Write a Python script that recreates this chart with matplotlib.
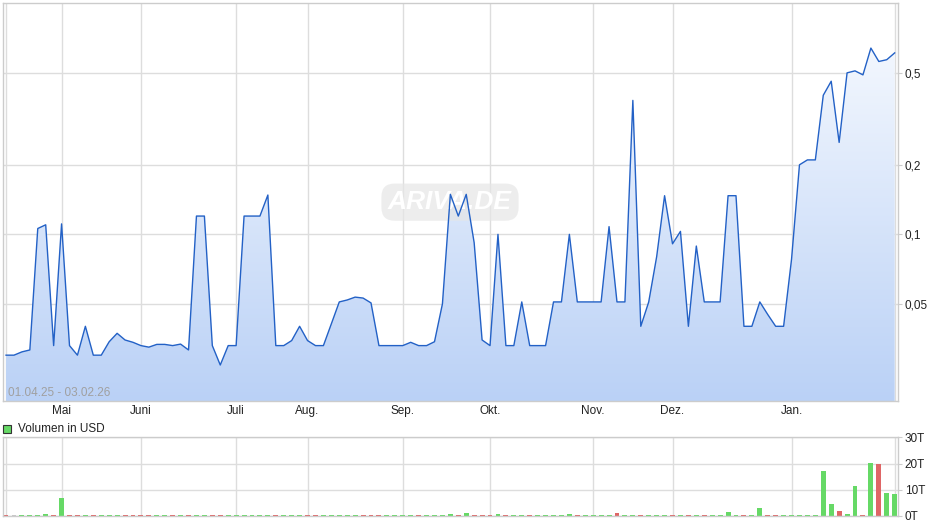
import numpy as np
import matplotlib.pyplot as plt
from matplotlib.patches import Rectangle

plt.rcParams['font.family'] = ['Liberation Sans', 'DejaVu Sans']

# Kurs (USD), ein Wert je Handelspunkt 01.04.25 - 03.02.26
price = [0.030, 0.030, 0.031, 0.0316, 0.106, 0.110, 0.033, 0.111, 0.033, 0.030,
         0.040, 0.030, 0.030, 0.0343, 0.0373, 0.0349, 0.0341, 0.033, 0.0325, 0.0334,
         0.0334, 0.033, 0.0335, 0.0316, 0.120, 0.120, 0.033, 0.0272, 0.033, 0.033,
         0.120, 0.120, 0.120, 0.148, 0.033, 0.033, 0.0347, 0.040, 0.0347, 0.033,
         0.033, 0.041, 0.051, 0.052, 0.0535, 0.053, 0.0505, 0.033, 0.033, 0.033,
         0.033, 0.0341, 0.033, 0.033, 0.0343, 0.050, 0.149, 0.120, 0.149, 0.092,
         0.0349, 0.033, 0.100, 0.033, 0.033, 0.051, 0.033, 0.033, 0.033, 0.051,
         0.051, 0.100, 0.051, 0.051, 0.051, 0.051, 0.108, 0.051, 0.051, 0.38,
         0.040, 0.051, 0.080, 0.147, 0.091, 0.103, 0.040, 0.089, 0.051, 0.051,
         0.051, 0.147, 0.147, 0.040, 0.040, 0.051, 0.045, 0.040, 0.040, 0.078,
         0.20, 0.21, 0.21, 0.40, 0.46, 0.25, 0.50, 0.51, 0.49, 0.64,
         0.56, 0.57, 0.61]

# Volumen in Tausend USD
volume = [0, 0.4, 0, 0, 0, 0.8, 0, 6.9, 0, 0,
          0, 0, 0, 0, 0, 0, 0, 0, 0, 0,
          0, 0, 0, 0, 0, 0, 0, 0, 0, 0,
          0, 0, 0, 0, 0, 0, 0, 0, 0, 0,
          0, 0, 0, 0, 0, 0, 0, 0, 0, 0,
          0, 0, 0, 0, 0, 0, 0.8, 0, 1.3, 0,
          0, 0, 0.8, 0, 0, 0, 0, 0, 0, 0,
          0, 0.8, 0, 0, 0, 0, 0, 1.1, 0, 0,
          0, 0, 0, 0, 0, 0, 0, 0, 0, 0,
          0, 1.5, 0, 0, 0, 3.0, 0, 0, 0, 0,
          0, 0, 0, 17.2, 4.6, 1.9, 0.8, 11.5, 0, 20.1,
          20.0, 8.8, 8.4]

month_pos = [7, 17, 29, 38, 50, 61, 74, 84, 99]
month_lbl = ['Mai', 'Juni', 'Juli', 'Aug.', 'Sep.', 'Okt.', 'Nov.', 'Dez.', 'Jan.']
price_ticks = [0.05, 0.1, 0.2, 0.5]
price_lbl = ['0,05', '0,1', '0,2', '0,5']
vol_ticks = [0, 10, 20, 30]
vol_lbl = ['0T', '10T', '20T', '30T']

W, H = 940, 526
fig = plt.figure(figsize=(9.4, 5.26), dpi=100)
ax = fig.add_axes([2.7 / W, 1 - 401 / H, 895 / W, 397.7 / H])
axv = fig.add_axes([2.7 / W, 10 / H, 895 / W, 78.7 / H])

x = np.arange(len(price))
xlim = (-0.42, len(price) - 1 + 0.38)
grid_c = '#dddddd'

for a in (ax, axv):
    a.set_xlim(*xlim)
    for p in month_pos + [0, len(price) - 1]:
        a.axvline(p, color=grid_c, lw=1, zorder=0)
    for s in a.spines.values():
        s.set_color('#cccccc')
        s.set_linewidth(1)
    a.yaxis.tick_right()
    a.tick_params(axis='y', length=3, color='#cccccc', pad=2, labelsize=8.5,
                  labelcolor='#222222')
    a.set_facecolor('white')

# Kurs
ax.set_yscale('log')
ylo, yhi = 0.019, 1.0
ax.set_ylim(ylo, yhi)
ax.set_yticks(price_ticks)
ax.set_yticklabels(price_lbl)
ax.minorticks_off()
for t in price_ticks:
    ax.axhline(t, color=grid_c, lw=1, zorder=0)

poly = ax.fill_between(x, price, ylo, facecolor='none', edgecolor='none')
grad = np.linspace(0, 1, 256)
top_c = np.array([0.98, 0.988, 1.0])
bot_c = np.array([0.73, 0.82, 0.965])
img = top_c * (1 - grad[:, None]) + bot_c * grad[:, None]
img = img.reshape(256, 1, 3)
im = ax.imshow(img, extent=[0, 1, 0, 1], transform=ax.transAxes,
               aspect='auto', zorder=1, interpolation='bilinear')
im.set_clip_path(poly.get_paths()[0], transform=ax.transData)
ax.set_xlim(*xlim)
ax.set_ylim(ylo, yhi)

ax.text(0.4998, 0.5, 'ARIVA.DE', transform=ax.transAxes, ha='center', va='center',
        fontsize=19, fontstyle='italic', fontweight='bold', color='white', zorder=2,
        bbox=dict(boxstyle='round,pad=0.25,rounding_size=0.5', fc='#e6e6e6',
                  ec='none', alpha=0.7))

ax.plot(x, price, color='#2361c6', lw=1.0, zorder=3)

ax.set_xticks(month_pos)
ax.set_xticklabels(month_lbl)
ax.tick_params(axis='x', length=0, pad=3, labelsize=8.5, labelcolor='#222222')

ax.text(0.006, 0.004, '01.04.25 - 03.02.26', transform=ax.transAxes,
        fontsize=8.5, color='#a0a0a0', ha='left', va='bottom', zorder=4)

# Volumen: Farbe nach Kursrichtung
colors = ['#df6666']
for i in range(1, len(price)):
    if price[i] > price[i - 1] * 1.005:
        colors.append('#66d966')
    elif price[i] < price[i - 1] * 0.995:
        colors.append('#df6666')
    else:
        colors.append('#66d966' if volume[i] == 0 else '#c8c8c8')
heights = [max(v, 0.35) for v in volume]
axv.bar(x, heights, width=0.62, color=colors, zorder=2)
axv.set_ylim(0, 30)
axv.set_yticks(vol_ticks)
axv.set_yticklabels(vol_lbl)
for t in vol_ticks:
    axv.axhline(t, color=grid_c, lw=1, zorder=0)
axv.set_xticks([])

fig.patches.append(Rectangle((3.3 / W, 1 - 432.5 / H), 7.5 / W, 7.5 / H,
                             transform=fig.transFigure, fc='#66d966',
                             ec='#333333', lw=0.8))
fig.text(18 / W, 1 - 428.5 / H, 'Volumen in USD', fontsize=8.5, color='#222222',
         va='center', ha='left')

fig.savefig('out.png', dpi=100)
